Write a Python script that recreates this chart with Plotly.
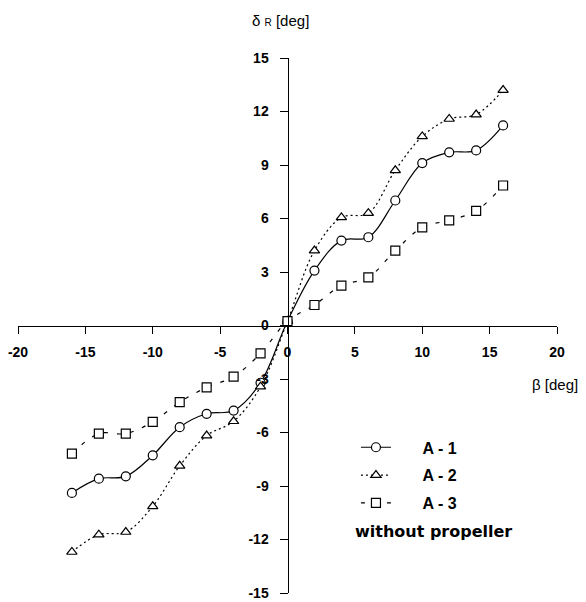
import plotly.graph_objects as go

beta = [-16, -14, -12, -10, -8, -6, -4, -2, 0, 2, 4, 6, 8, 10, 12, 14, 16]
a1 = [-9.39, -8.59, -8.46, -7.28, -5.70, -4.95, -4.77, -3.21, 0.25,
      3.08, 4.76, 4.95, 7.01, 9.11, 9.71, 9.82, 11.22]
a2 = [-12.70, -11.73, -11.58, -10.14, -7.87, -6.17, -5.37, -3.43, 0.25,
      4.20, 6.06, 6.30, 8.70, 10.60, 11.58, 11.83, 13.20]
a3 = [-7.18, -6.06, -6.06, -5.40, -4.30, -3.47, -2.87, -1.56, 0.25,
      1.15, 2.24, 2.70, 4.20, 5.50, 5.90, 6.43, 7.85]

x_ticks = [-20, -15, -10, -5, 0, 5, 10, 15, 20]
y_ticks = [-15, -12, -9, -6, -3, 0, 3, 6, 9, 12, 15]

pad = "\u00a0" * 6
series = [
    ("A - 1", a1, "circle", "solid"),
    ("A - 2", a2, "triangle-up", "2px,3px"),
    ("A - 3", a3, "square", "4px,9px"),
]

fig = go.Figure()
for i, (name, vals, sym, dash) in enumerate(series):
    fig.add_trace(go.Scatter(
        x=beta, y=vals, name=pad + name, mode="lines+markers",
        legendgroup=str(i),
        line=dict(color="black", width=1.2, dash=dash, shape="spline", smoothing=1),
        marker=dict(symbol=sym, size=9, color="white",
                    line=dict(color="black", width=1.2)),
    ))

axis_font = dict(family="Liberation Sans, Arial", size=14, color="black", weight="bold")

fig.update_layout(
    width=586, height=602,
    margin=dict(l=18.3, r=28.7, t=58.3, b=9.3),
    paper_bgcolor="white", plot_bgcolor="white",
    showlegend=True,
    legend=dict(x=0.627, y=0.304, xanchor="left", yanchor="top",
                bgcolor="rgba(0,0,0,0)", borderwidth=0,
                tracegroupgap=4, traceorder="grouped",
                font=dict(family="Liberation Sans, Arial", size=16,
                          color="black", weight="bold")),
    xaxis=dict(range=[-20, 20], tickvals=x_ticks, ticktext=[str(v) for v in x_ticks],
               showgrid=False, zeroline=False, showline=True, linecolor="black",
               linewidth=1, ticks="outside", ticklen=7, tickcolor="black",
               anchor="free", position=0.5, tickfont=axis_font,
               ticklabelstandoff=7, automargin=False, ticklabeloverflow="allow"),
    yaxis=dict(range=[-15, 15], tickvals=y_ticks, ticktext=[str(v) for v in y_ticks],
               showgrid=False, zeroline=False, showline=True, linecolor="black",
               linewidth=1, ticks="outside", ticklen=8, tickcolor="black",
               anchor="free", position=0.5, tickfont=axis_font,
               ticklabelstandoff=8, automargin=False, ticklabeloverflow="allow"),
    annotations=[
        dict(text="δ <span style='font-size:10px'>R</span> [deg]",
             xref="paper", yref="paper", x=0.487, y=1.07,
             showarrow=False, xanchor="center", yanchor="middle",
             font=dict(family="Liberation Sans, Arial", size=15, color="black")),
        dict(text="β [deg]", xref="paper", yref="paper", x=(530 - 18.3) / 539, y=0.389,
             showarrow=False, xanchor="left", yanchor="middle",
             font=dict(family="Liberation Sans, Arial", size=15, color="black")),
        dict(text="without propeller", xref="paper", yref="paper",
             x=(353 - 18.3) / 539, y=(592.7 - 531) / 534.4,
             showarrow=False, xanchor="left", yanchor="middle",
             font=dict(family="DejaVu Sans", size=16, color="black", weight="bold")),
    ],
)

fig.write_html(
    "out.html",
    config={"displayModeBar": False},
    post_script="document.body.style.margin='0px';document.body.style.overflow='hidden';",
)
